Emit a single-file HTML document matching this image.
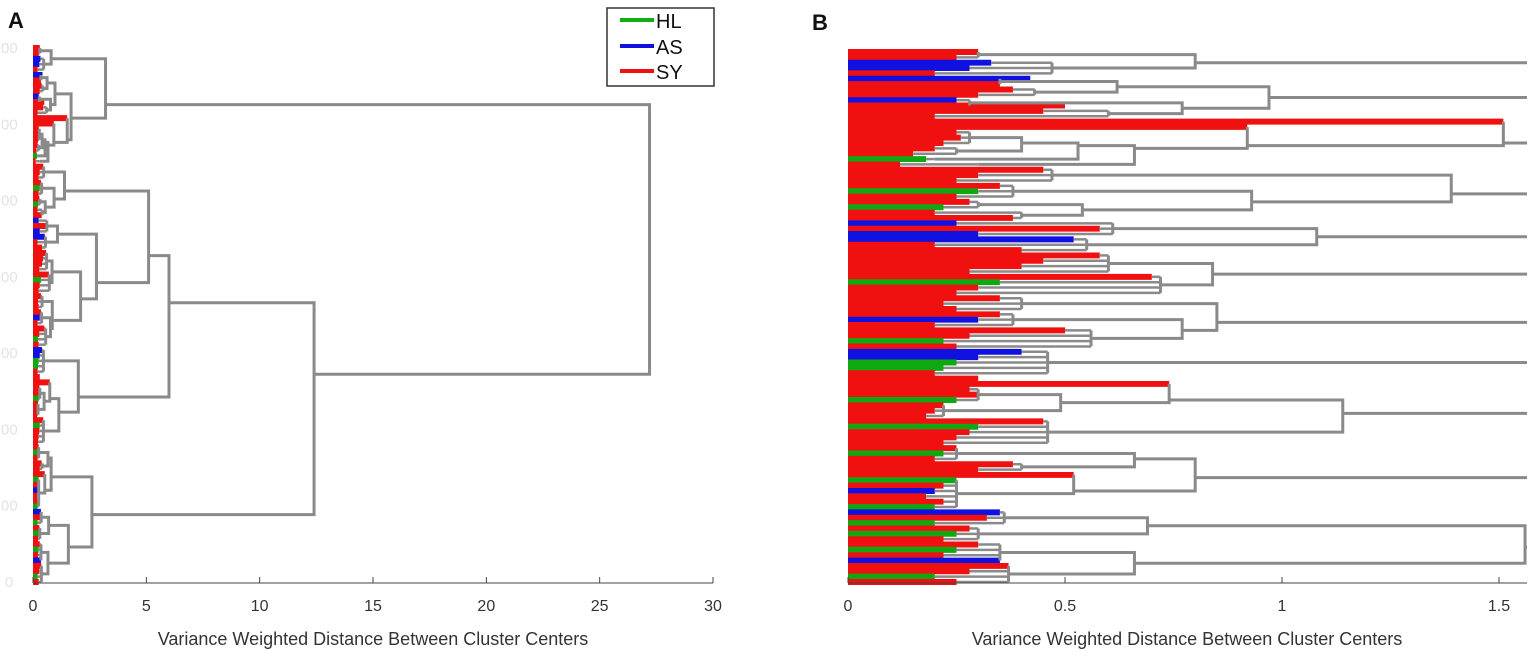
<!DOCTYPE html>
<html><head><meta charset="utf-8"><style>
html,body{margin:0;padding:0;background:#fff;}
svg{display:block;font-family:"Liberation Sans",Arial,sans-serif;}
</style></head><body>
<svg id="fig" width="1535" height="656" viewBox="0 0 1535 656">
<defs><clipPath id="clipB"><rect x="846" y="40" width="681" height="545"/></clipPath>
<clipPath id="clipA"><rect x="31" y="40" width="684" height="545"/></clipPath></defs>
<text x="8" y="28" font-size="22" font-weight="bold" fill="#111">A</text>
<text x="812" y="30" font-size="22" font-weight="bold" fill="#111">B</text>
<g id="panelA"></g>
<g id="panelB"></g>
<g>
<rect x="607" y="8" width="107" height="78" fill="#fff" stroke="#333" stroke-width="1.5"/>
<g><line x1="620" y1="20" x2="654" y2="20" stroke="#10b010" stroke-width="4"/><text x="656" y="28" font-size="20" fill="#111">HL</text></g>
<g><line x1="620" y1="46" x2="654" y2="46" stroke="#1010e0" stroke-width="4"/><text x="656" y="54" font-size="20" fill="#111">AS</text></g>
<g><line x1="620" y1="71" x2="654" y2="71" stroke="#f01010" stroke-width="4"/><text x="656" y="79" font-size="20" fill="#111">SY</text></g>
</g>
</svg>
<script>
const leafLen=[.30,.25,.33,.28,.20, .42,.35,.38,.30, .25,.50,.45,.20, 1.51,.92,
 .25,.26,.22,.20,.15,.18,.12, .45,.30,.25, .35,.30,.25,.28,.22,.20,.38,
 .25,.58,.30,.52,.20,.40, .58,.45,.40,.28,.70,.35,.30,.25,
 .35,.22,.25,.35,.30,.20,.50,.28,.22,.25, .40,.30,.25,.22,.20,
 .30,.74,.28,.30,.25,.22,.20,.18,.45,.30,.28,.25,.22,
 .25,.22,.20,.38,.30,.52,.25,.22,.20,.18,.22,.20,
 .35,.32,.20,.28,.25,.22,.30,.25,.22,.35,.37,.28,.20,.25];
const leafCls="RRBBR"+"BRRR"+"BRRR"+"RR"+"RRRRRGR"+"RRR"+"RGRRGRR"+"BRBBRR"+"RRRRRGRR"+"RRRRBRRRGR"+"BBGGR"+"RRRRGRRRRGRRR"+"RGRRRRGRBRRG"+"BRGRGRRGRBRRGR";
// leaf groups: start leaf, end leaf, merge height
const groupStart=[0,2,5,7,9,11,13,14,15,18,20,21,22,25,28,30,32,35,38,42,46,49,52,56,61,62,63,66,69,74,77,79,80,86,89,92,96];
const groupEnd  =[1,4,6,8,10,12,13,14,17,19,20,21,24,27,29,31,34,37,41,45,48,51,55,60,61,62,65,68,73,76,78,79,85,88,91,95,99];
const groupH    =[.30,.47,.35,.43,.28,.60,1.51,.92,.28,.25,.20,.30,.47,.38,.30,.40,.61,.55,.60,.72,.40,.38,.56,.46,.30,.74,.30,.22,.46,.25,.40,.52,.25,.36,.30,.35,.37];
// merge heights in order of linkage
const mergeH=[.80, .62,.77,.97, .40,.53,.66,.92,1.51, .54,.93,1.39, 1.08, .84, .77,.85,
 .49,.74,1.14, .66,.52,.80, .69,.66,1.56, 1.68,3.2, 2.1,2.8,5.1,2.0,6.0,2.6,12.4,27.2];
const xTicksA=[0,5,10,15,20,25,30];
const xTicksB=[0,0.5,1,1.5];
const yTickLabelsA=["00","00","00","00","00","00","00","0"];
</script>
<script>
const treeA=[],treeB=[],treeH=[];
let mk_i=0;
function M(a,b){treeA.push(a);treeB.push(b);treeH.push(mergeH[mk_i++]);return groupStart.length+treeA.length-1;}
(function(){
 const c1=M(0,1);
 const c2t=M(2,3), c2b=M(4,5), c2=M(c2t,c2b);
 const s1=M(8,9), s2=M(s1,10), s3=M(s2,11), c3b=M(7,s3), c3=M(6,c3b);
 const g13=M(14,15), c4b=M(13,g13), c4=M(12,c4b);
 const c5=M(16,17);
 const c6=M(18,19);
 const c7b=M(21,22), c7=M(20,c7b);
 const c8=23;
 const c9s=M(26,27), c9a=M(25,c9s), c9=M(c9a,28);
 const c10a=M(29,30), c10b=M(31,32), c10=M(c10a,c10b);
 const c11a=M(33,34), c11b=M(35,36), c11=M(c11a,c11b);
 const n23=M(c2,c3), ntop=M(c1,n23);
 const n67=M(c6,c7), n567=M(c5,n67), n5=M(c4,n567), n89=M(c8,c9), n6=M(n5,n89);
 const nb=M(c10,c11), n12=M(n6,nb);
 M(ntop,n12);
})();
const NS="http://www.w3.org/2000/svg";
const col={R:"#f01010",G:"#10a810",B:"#1010e0"};
const GRAY="#8a8a8a";
function mk(tag,attrs,parent){const e=document.createElementNS(NS,tag);for(const k in attrs)e.setAttribute(k,attrs[k]);parent.appendChild(e);return e;}
function drawPanel(g,x0,pxPerUnit,yTop,yBot,clipId){
 const nLeaf=leafLen.length;
 const sx=v=>x0+v*pxPerUnit;
 const sy=i=>yTop+i*(yBot-yTop)/(nLeaf-1);
 const plot=mk("g",{"clip-path":"url(#"+clipId+")"},g);
 const leafStroke=(yBot-yTop)/(nLeaf-1)+0.6;
 const nodes=[];
 for(let k=0;k<groupStart.length;k++){
  const s=groupStart[k],e=groupEnd[k],h=groupH[k];
  const grp=mk("g",{},plot);
  
  
  let sum=0;
  for(let i=s;i<=e;i++){
   sum+=sy(i);
   mk("line",{x1:sx(0),x2:sx(leafLen[i]),y1:sy(i),y2:sy(i),stroke:col[leafCls[i]]||col.R,"stroke-width":leafStroke},grp);
   if(h>leafLen[i]) mk("line",{x1:sx(leafLen[i]),x2:sx(h),y1:sy(i),y2:sy(i),stroke:GRAY,"stroke-width":2.5},grp);
  }
  if(e>s) mk("line",{x1:sx(h),x2:sx(h),y1:sy(s),y2:sy(e),stroke:GRAY,"stroke-width":3},grp);
  const n=e-s+1;
  nodes.push({y:sum/n,h:h,n:n,sum:sum});
 }
 for(let m=0;m<treeA.length;m++){
  const a=nodes[treeA[m]],b=nodes[treeB[m]],h=treeH[m];
  const grp=mk("g",{},plot);
  
  
  const d="M"+sx(a.h)+","+a.y+"H"+sx(h)+"V"+b.y+"H"+sx(b.h);
  mk("path",{d:d,fill:"none",stroke:GRAY,"stroke-width":3,"stroke-linejoin":"miter"},grp);
  const n=a.n+b.n,sum=a.sum+b.sum;
  nodes.push({y:sum/n,h:h,n:n,sum:sum});
 }
 return {sx:sx};
}
const gA=document.getElementById("panelA"),gB=document.getElementById("panelB");
const pA=drawPanel(gA,33,680/30,48,582,"clipA");
const axA=mk("g",{},gA);


mk("line",{x1:33,x2:713,y1:583,y2:583,stroke:"#444","stroke-width":1},axA);
xTicksA.forEach(t=>{
 mk("line",{x1:pA.sx(t),x2:pA.sx(t),y1:583,y2:577,stroke:"#444","stroke-width":1},axA);
 const tx=mk("text",{x:pA.sx(t),y:611,"font-size":16,"text-anchor":"middle",fill:"#333"},axA);
 
 
 tx.textContent=String(t);
});
yTickLabelsA.forEach((s,i)=>{
 const t=mk("text",{x:i===7?5:1,y:53+i*(582-48)/7,"font-size":15,fill:"#e2e2e2"},gA);
 
 
 t.textContent=s;
});
const xlA=mk("text",{x:373,y:645,"font-size":18,"text-anchor":"middle",fill:"#333"},gA);


xlA.textContent="Variance Weighted Distance Between Cluster Centers";
const pB=drawPanel(gB,848,434,52,582,"clipB");
const axB=mk("g",{},gB);


mk("line",{x1:848,x2:1527,y1:583,y2:583,stroke:"#444","stroke-width":1},axB);
xTicksB.forEach(t=>{
 mk("line",{x1:pB.sx(t),x2:pB.sx(t),y1:583,y2:577,stroke:"#444","stroke-width":1},axB);
 const tx=mk("text",{x:pB.sx(t),y:611,"font-size":16,"text-anchor":"middle",fill:"#333"},axB);
 
 
 tx.textContent=String(t);
});
const xlB=mk("text",{x:1187,y:645,"font-size":18,"text-anchor":"middle",fill:"#333"},gB);


xlB.textContent="Variance Weighted Distance Between Cluster Centers";
</script>
</body></html>
